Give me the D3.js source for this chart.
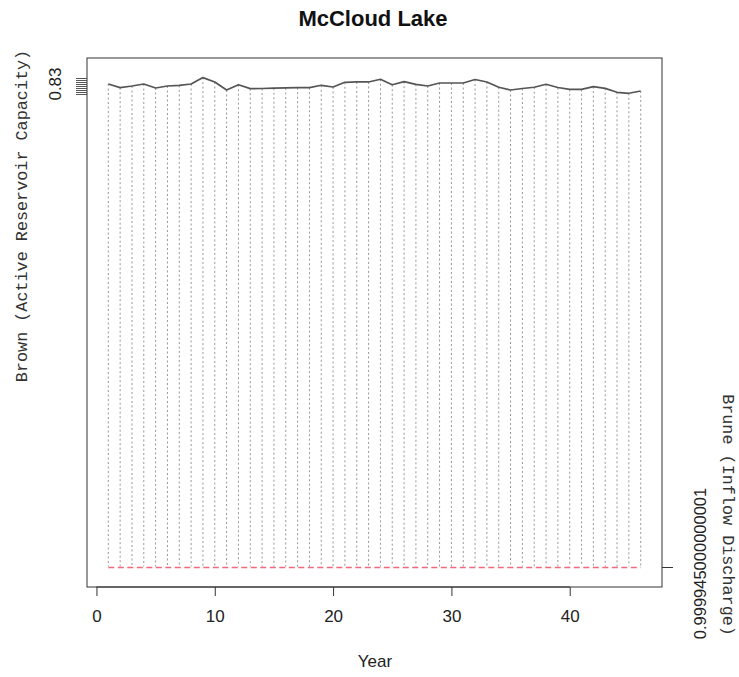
<!DOCTYPE html>
<html>
<head>
<meta charset="utf-8">
<script src="https://cdn.jsdelivr.net/npm/d3@7/dist/d3.min.js"></script>
<style>
  html, body { margin: 0; padding: 0; background: #fff; }
  svg { display: block; }
</style>
</head>
<body>
<svg id="chart" width="739" height="677"></svg>
<script>
// Yearly series for McCloud Lake
const years = d3.range(1, 47);
const brown = [
  0.8290, 0.8227, 0.8256, 0.8290, 0.8222, 0.8256, 0.8265, 0.8290, 0.8400, 0.8325,
  0.8187, 0.8278, 0.8210, 0.8213, 0.8218, 0.8222, 0.8227, 0.8227, 0.8268, 0.8239,
  0.8319, 0.8325, 0.8325, 0.8371, 0.8278, 0.8330, 0.8285, 0.8256, 0.8307, 0.8307,
  0.8307, 0.8367, 0.8325, 0.8234, 0.8187, 0.8213, 0.8234, 0.8285, 0.8230, 0.8199,
  0.8199, 0.8244, 0.8216, 0.8148, 0.8131, 0.8170
];
const bruneValue = 0.999945000000001;
const brune = years.map(() => bruneValue);
const xTicks = [0, 10, 20, 30, 40];

const svg = d3.select("#chart");
const box = { left: 87, right: 662, top: 58, bottom: 587 };

// 4% padding on each side, as in base graphics
const pad = (lo, hi) => [lo - 0.04 * (hi - lo), hi + 0.04 * (hi - lo)];

const x = d3.scaleLinear().domain(pad(1, 46)).range([box.left, box.right]);
const yL = d3.scaleLinear().domain(pad(0, d3.max(brown))).range([box.bottom, box.top]);
// the constant series sits at the bottom of the data band
const yBottom = Math.round(yL(0)) + 0.5;

// drop lines from each yearly value
svg.append("g")
  .selectAll("line")
  .data(years)
  .join("line")
  .attr("x1", (d) => x(d)).attr("x2", (d) => x(d))
  .attr("y1", (d, i) => yL(brown[i]))
  .attr("y2", yBottom - 1)
  .attr("stroke", "#969696")
  .attr("stroke-width", 1)
  .attr("stroke-dasharray", "2,2.5");

// Brune series (constant)
svg.append("path")
  .datum(brune)
  .attr("fill", "none")
  .attr("stroke", "#f06a7c")
  .attr("stroke-width", 1.5)
  .attr("stroke-dasharray", "6,3.5")
  .attr("d", d3.line().x((d, i) => x(years[i])).y(() => yBottom));

// Brown series
svg.append("path")
  .datum(brown)
  .attr("fill", "none")
  .attr("stroke", "#555")
  .attr("stroke-width", 1.7)
  .attr("stroke-linejoin", "round")
  .attr("d", d3.line().x((d, i) => x(years[i])).y((d) => yL(d)));

// frame
svg.append("rect")
  .attr("x", box.left).attr("y", box.top)
  .attr("width", box.right - box.left).attr("height", box.bottom - box.top)
  .attr("fill", "none").attr("stroke", "#333").attr("stroke-width", 1);

// bottom axis
const xAxis = svg.append("g")
  .attr("transform", `translate(0,${box.bottom})`)
  .call(d3.axisBottom(x).tickValues(xTicks).tickSize(9).tickPadding(14).tickFormat(d3.format("d")));
xAxis.select(".domain").attr("stroke", "#333").attr("d", `M${x(0)},0H${x(40)}`);
xAxis.selectAll(".tick line").attr("stroke", "#333");
xAxis.selectAll("text")
  .attr("font-family", "Liberation Sans, Arial, sans-serif")
  .attr("font-size", 17).attr("fill", "#222");

// left axis: a tick at every distinct yearly value, one readable label
const tickLevels = Array.from(new Set(brown.map((v) => Math.round(yL(v) / 2) * 2)));
const leftAxis = svg.append("g")
  .attr("transform", `translate(${box.left},0)`);
leftAxis.selectAll("line")
  .data(tickLevels)
  .join("line")
  .attr("x1", -11).attr("x2", 0)
  .attr("y1", (d) => d + 0.5).attr("y2", (d) => d + 0.5)
  .attr("stroke", "#444").attr("stroke-width", 0.9);
svg.append("text")
  .attr("transform", `translate(61,${yL(brown[0])}) rotate(-90)`)
  .attr("text-anchor", "middle")
  .attr("font-family", "Liberation Sans, Arial, sans-serif")
  .attr("font-size", 17).attr("fill", "#222")
  .text(d3.format(".2f")(brown[0]));

// right axis
const rightAxis = svg.append("g")
  .attr("transform", `translate(${box.right},0)`);
rightAxis.append("line")
  .attr("x1", 0).attr("x2", 11)
  .attr("y1", yBottom).attr("y2", yBottom)
  .attr("stroke", "#333");
svg.append("text")
  .attr("transform", `translate(706,${yBottom - 4}) rotate(-90)`)
  .attr("text-anchor", "middle")
  .attr("font-family", "Liberation Sans, Arial, sans-serif")
  .attr("font-size", 16.5).attr("fill", "#222")
  .text(String(bruneValue));

// titles
svg.append("text")
  .attr("x", 373).attr("y", 26)
  .attr("text-anchor", "middle")
  .attr("font-family", "Liberation Sans, Arial, sans-serif")
  .attr("font-weight", "bold")
  .attr("font-size", 22).attr("fill", "#111")
  .text("McCloud Lake");

svg.append("text")
  .attr("x", 375).attr("y", 667)
  .attr("text-anchor", "middle")
  .attr("font-family", "Liberation Sans, Arial, sans-serif")
  .attr("font-size", 17).attr("fill", "#222")
  .text("Year");

svg.append("text")
  .attr("transform", "translate(27,216) rotate(-90)")
  .attr("text-anchor", "middle")
  .attr("font-family", "Liberation Mono, Courier New, monospace")
  .attr("font-size", 16.8).attr("fill", "#333")
  .text("Brown (Active Reservoir Capacity)");

svg.append("text")
  .attr("transform", "translate(723,515) rotate(90)")
  .attr("text-anchor", "middle")
  .attr("font-family", "Liberation Mono, Courier New, monospace")
  .attr("font-size", 16.8).attr("fill", "#333")
  .text("Brune (Inflow Discharge)");
</script>
</body>
</html>
